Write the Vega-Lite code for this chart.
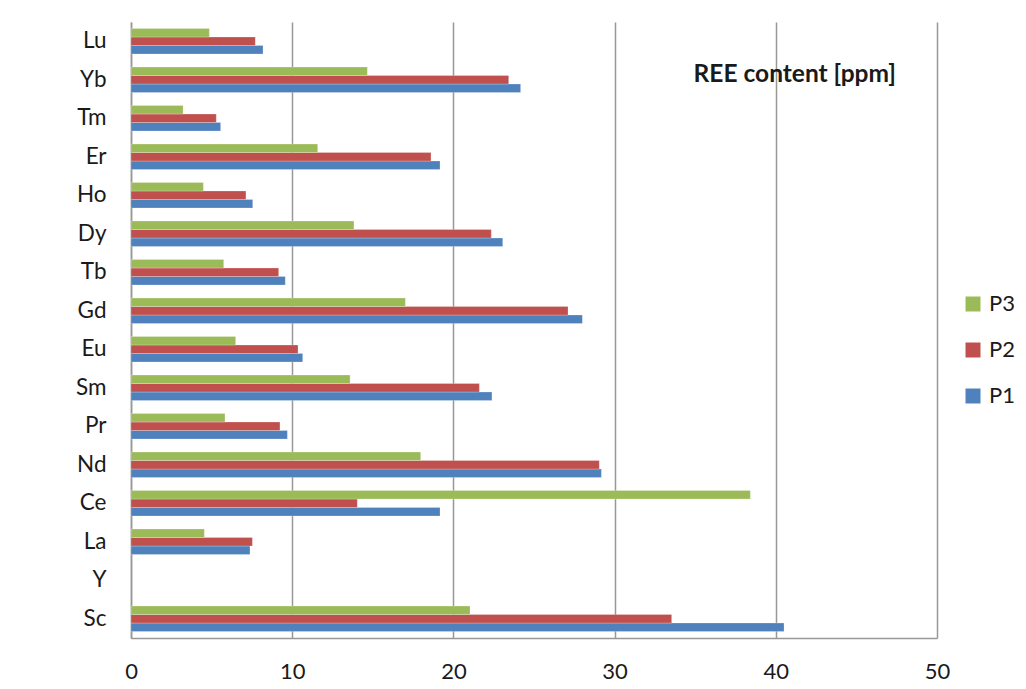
{
  "$schema": "https://vega.github.io/schema/vega-lite/v6.json",
  "width": 806,
  "height": 616,
  "autosize": {"type": "none"},
  "padding": {"left": 131, "top": 22, "right": 89, "bottom": 51},
  "background": "white",
  "title": {
    "text": "REE content [ppm]",
    "anchor": "end",
    "orient": "top",
    "frame": "group",
    "font": "Lato",
    "fontSize": 24.5,
    "fontWeight": "bold",
    "color": "#1a1a1a",
    "baseline": "middle",
    "dx": -41,
    "offset": -77
  },
  "data": {
    "values": [
      {"element": "Lu", "series": "P1", "value": 8.19},
      {"element": "Lu", "series": "P2", "value": 7.71},
      {"element": "Lu", "series": "P3", "value": 4.86},
      {"element": "Yb", "series": "P1", "value": 24.17},
      {"element": "Yb", "series": "P2", "value": 23.43},
      {"element": "Yb", "series": "P3", "value": 14.66},
      {"element": "Tm", "series": "P1", "value": 5.56},
      {"element": "Tm", "series": "P2", "value": 5.29},
      {"element": "Tm", "series": "P3", "value": 3.23},
      {"element": "Er", "series": "P1", "value": 19.17},
      {"element": "Er", "series": "P2", "value": 18.61},
      {"element": "Er", "series": "P3", "value": 11.58},
      {"element": "Ho", "series": "P1", "value": 7.55},
      {"element": "Ho", "series": "P2", "value": 7.13},
      {"element": "Ho", "series": "P3", "value": 4.49},
      {"element": "Dy", "series": "P1", "value": 23.06},
      {"element": "Dy", "series": "P2", "value": 22.35},
      {"element": "Dy", "series": "P3", "value": 13.83},
      {"element": "Tb", "series": "P1", "value": 9.57},
      {"element": "Tb", "series": "P2", "value": 9.16},
      {"element": "Tb", "series": "P3", "value": 5.75},
      {"element": "Gd", "series": "P1", "value": 28.0},
      {"element": "Gd", "series": "P2", "value": 27.11},
      {"element": "Gd", "series": "P3", "value": 17.02},
      {"element": "Eu", "series": "P1", "value": 10.65},
      {"element": "Eu", "series": "P2", "value": 10.36},
      {"element": "Eu", "series": "P3", "value": 6.49},
      {"element": "Sm", "series": "P1", "value": 22.39},
      {"element": "Sm", "series": "P2", "value": 21.61},
      {"element": "Sm", "series": "P3", "value": 13.59},
      {"element": "Pr", "series": "P1", "value": 9.7},
      {"element": "Pr", "series": "P2", "value": 9.24},
      {"element": "Pr", "series": "P3", "value": 5.83},
      {"element": "Nd", "series": "P1", "value": 29.18},
      {"element": "Nd", "series": "P2", "value": 29.05},
      {"element": "Nd", "series": "P3", "value": 17.97},
      {"element": "Ce", "series": "P1", "value": 19.17},
      {"element": "Ce", "series": "P2", "value": 14.04},
      {"element": "Ce", "series": "P3", "value": 38.42},
      {"element": "La", "series": "P1", "value": 7.38},
      {"element": "La", "series": "P2", "value": 7.53},
      {"element": "La", "series": "P3", "value": 4.55},
      {"element": "Sc", "series": "P1", "value": 40.51},
      {"element": "Sc", "series": "P2", "value": 33.54},
      {"element": "Sc", "series": "P3", "value": 21.03}
    ]
  },
  "mark": {"type": "bar", "stroke": "white", "strokeWidth": 0.4, "strokeOpacity": 0.6},
  "encoding": {
    "y": {
      "field": "element",
      "type": "nominal",
      "scale": {
        "domain": ["Lu", "Yb", "Tm", "Er", "Ho", "Dy", "Tb", "Gd", "Eu", "Sm", "Pr", "Nd", "Ce", "La", "Y", "Sc"],
        "paddingInner": 0.34,
        "paddingOuter": 0.17
      },
      "axis": {
        "title": null,
        "ticks": false,
        "domain": true,
        "domainColor": "#989898",
        "domainWidth": 1.5,
        "labelFont": "Lato",
        "labelFontSize": 22.5,
        "labelColor": "#1a1a1a",
        "labelPadding": 25
      }
    },
    "yOffset": {
      "field": "series",
      "type": "nominal",
      "scale": {"domain": ["P3", "P2", "P1"], "paddingInner": 0, "paddingOuter": 0}
    },
    "x": {
      "field": "value",
      "type": "quantitative",
      "scale": {"domain": [0, 50], "nice": false, "zero": true},
      "axis": {
        "title": null,
        "values": [0, 10, 20, 30, 40, 50],
        "grid": true,
        "gridColor": "#989898",
        "gridWidth": 1.5,
        "ticks": false,
        "domain": true,
        "domainColor": "#989898",
        "domainWidth": 1.5,
        "labelFont": "Lato",
        "labelFontSize": 22,
        "labelColor": "#1a1a1a",
        "labelPadding": 23,
        "labelFlush": false
      }
    },
    "color": {
      "field": "series",
      "type": "nominal",
      "scale": {"domain": ["P1", "P2", "P3"], "range": ["#4F81BD", "#C0504D", "#9BBB59"]},
      "legend": {
        "title": null,
        "values": ["P3", "P2", "P1"],
        "orient": "none",
        "legendX": 831,
        "legendY": 271,
        "symbolType": "square",
        "symbolSize": 225,
        "symbolStrokeWidth": 0,
        "labelFont": "Lato",
        "labelFontSize": 22,
        "labelColor": "#1a1a1a",
        "labelOffset": 5,
        "rowPadding": 24
      }
    }
  },
  "config": {
    "view": {"stroke": null}
  }
}
